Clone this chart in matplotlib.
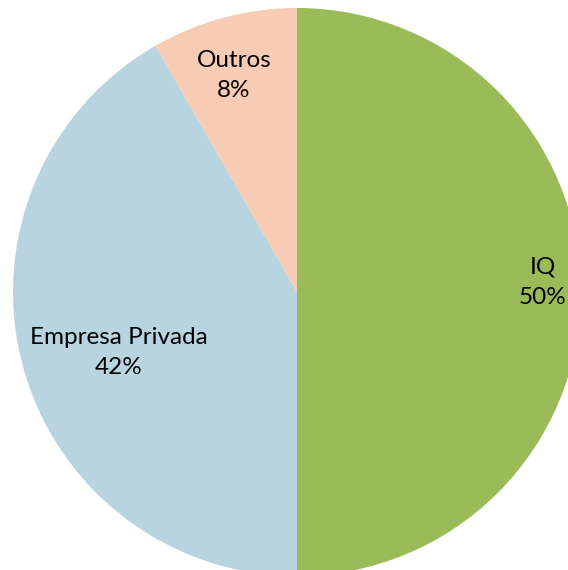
import matplotlib
matplotlib.use('Agg')
import matplotlib.pyplot as plt

# data
categorias = ['IQ', 'Empresa Privada', 'Outros']
valores = [50.0, 41.7, 8.3]
cores = ['#9BBB59', '#B7D4E0', '#F8CBB4']

# label positions (data coords, pie radius = 1)
pos_rotulos = [(0.866, 0.035), (-0.627, -0.212), (-0.222, 0.763)]

plt.rcParams['font.family'] = ['Lato', 'DejaVu Sans']

fig = plt.figure(figsize=(5.68, 5.70), dpi=100)
ax = fig.add_axes([13 / 568, -6 / 570, 568 / 568, 568 / 570])
ax.pie(valores, colors=cores, startangle=90, counterclock=False,
       radius=1.0, wedgeprops=dict(linewidth=0))
ax.set_xlim(-1, 1)
ax.set_ylim(-1, 1)
ax.set_aspect('equal')
ax.axis('off')

for cat, val, (x, y) in zip(categorias, valores, pos_rotulos):
    ax.text(x, y, '%s\n%.0f%%' % (cat, val), ha='center', va='center',
            fontsize=17.5, color='black', linespacing=1.55)

fig.savefig('out.png', dpi=100)
